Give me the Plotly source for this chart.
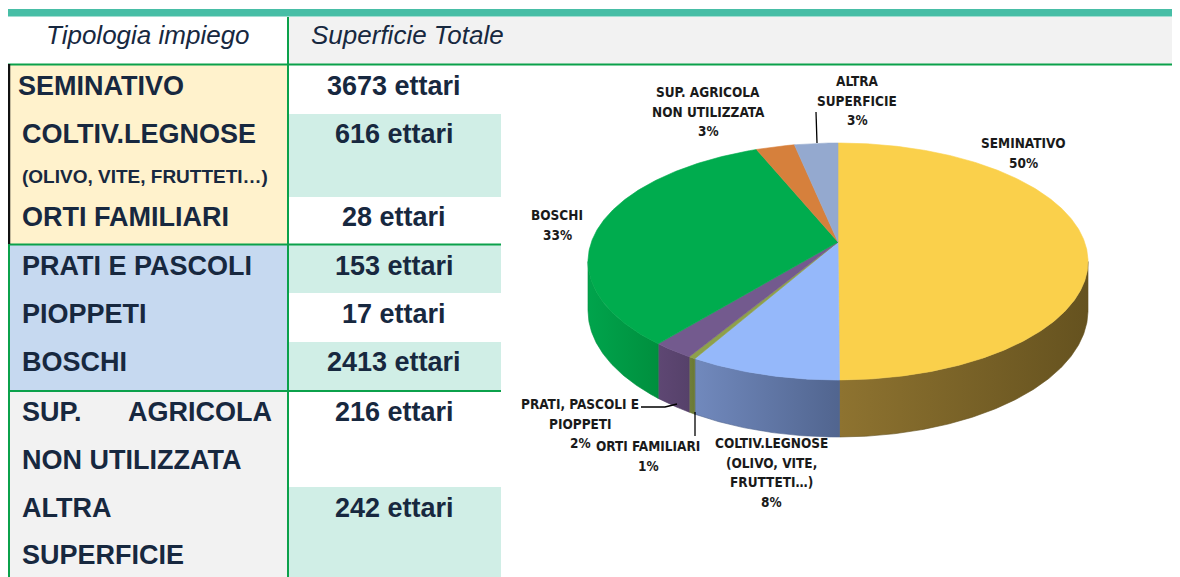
import numpy as np
import plotly.graph_objects as go

# ------------------------------------------------------------------ data
table_header = ["Tipologia impiego", "Superficie Totale"]
table_lines = ["SEMINATIVO", "COLTIV.LEGNOSE", "(OLIVO, VITE, FRUTTETI…)", "ORTI FAMILIARI",
               "PRATI E PASCOLI", "PIOPPETI", "BOSCHI",
               "SUP.", "AGRICOLA", "NON UTILIZZATA", "ALTRA", "SUPERFICIE"]
table_values = [3673, 616, 28, 153, 17, 2413, 216, 242]
value_unit = "ettari"

pie_labels = ["SEMINATIVO", "COLTIV.LEGNOSE<br>(OLIVO, VITE,<br>FRUTTETI…)", "ORTI FAMILIARI",
              "PRATI, PASCOLI E<br>PIOPPETI", "BOSCHI", "SUP. AGRICOLA<br>NON UTILIZZATA",
              "ALTRA<br>SUPERFICIE"]
pie_values = [3673, 616, 28, 170, 2413, 216, 242]

# ------------------------------------------------------------------ style / layout
W, H = 1180, 577
OFF = 8  # page body margin: figure starts at page pixel 8
TXT = "#17283F"
GREEN = "#0BA14B"
TEAL = "#D0EEE6"
TABLE_FONT = "Liberation Sans, Arial, sans-serif"
PIE_FONT = "DejaVu Sans Condensed, Liberation Sans Narrow, Roboto, sans-serif"

top_colors = ["#FAD04B", "#95B8FA", "#8EA04B", "#735A8E", "#00AC4E", "#D6803C", "#94A9CF"]
side_colors = [("#8E7330", "#65521F"), ("#7189BD", "#51658F"), ("#707F39", "#6A7935"),
               ("#5E4773", "#56416A"), ("#00A44C", "#008F3E"), ("#B06A30", "#A06028"),
               ("#7A8BAA", "#6F80A0")]

# text rows (pixel centre y)
line_y = [86, 134, 176, 217, 266, 314, 362, 412, 412, 460, 508, 555]
line_x = [16, 20, 20, 20, 20, 20, 20, 20, 274, 20, 20, 20]
line_anchor = ["left"] * 8 + ["right"] + ["left"] * 3
line_size = [27, 27, 19, 27, 27, 27, 27, 27, 27, 27, 27, 27]
value_y = [86, 134, 217, 266, 314, 362, 412, 508]

# pie geometry (perspective ellipse)
CX, CY = 838, 242
K = 0.1646
A = 246.6
B = 115.3
D0 = 47.6

# label placement (centre x, first line y, line step)
label_pos = [(1023, 143), (771, 443), (648, 446), (580, 404), (557, 215), (708, 92), (857, 81)]
LSTEP = 19.6
leaders = [None, None, [(695, 412), (695, 436)], [(641, 407), (665, 407), (677, 404)],
           None, None, [(816, 112), (817, 143)]]

fig = go.Figure()
shapes = []


def rect(x0, y0, x1, y1, color):
    shapes.append(dict(type="rect", x0=x0, y0=y0, x1=x1, y1=y1, fillcolor=color,
                       line=dict(width=0), layer="below", xref="x", yref="y"))


def hline(x0, x1, y, color=GREEN, w=2):
    shapes.append(dict(type="line", x0=x0, x1=x1, y0=y, y1=y, line=dict(color=color, width=w),
                       xref="x", yref="y"))


def vline(x, y0, y1, color=GREEN, w=2):
    shapes.append(dict(type="line", x0=x, x1=x, y0=y0, y1=y1, line=dict(color=color, width=w),
                       xref="x", yref="y"))


# table backgrounds
rect(8, 9, W, 16.5, "#47BEA6")
rect(289, 17, W, 64, "#F2F2F2")
rect(9, 65, 288, 244, "#FFF2CC")
rect(9, 245, 288, 390, "#C6D9F0")
rect(9, 392, 288, H, "#F2F2F2")
for (y0, y1) in [(114, 197), (245, 293), (342, 390), (487, H)]:
    rect(289, y0, 501, y1, TEAL)
hline(8, W, 64.5)
hline(8, 501, 244.5)
hline(8, 501, 391)
vline(288, 17, H)
vline(9, 245, H)
vline(9, 64, 244, color="#111111", w=2.5)

annotations = []
annotations.append(dict(x=148, y=35, text="<i>" + table_header[0] + "</i>", showarrow=False,
                        xanchor="center", yanchor="middle",
                        font=dict(family=TABLE_FONT, size=26, color=TXT)))
annotations.append(dict(x=309, y=35, text="<i>" + table_header[1] + "</i>", showarrow=False,
                        xanchor="left", yanchor="middle",
                        font=dict(family=TABLE_FONT, size=26, color=TXT)))
for t, x, y, anc, s in zip(table_lines, line_x, line_y, line_anchor, line_size):
    annotations.append(dict(x=x, y=y, text="<b>" + t + "</b>", showarrow=False,
                            xanchor=anc, yanchor="middle",
                            font=dict(family=TABLE_FONT, size=s, color=TXT)))
for v, y in zip(table_values, value_y):
    annotations.append(dict(x=394, y=y, text=f"<b>{v} {value_unit}</b>", showarrow=False,
                            xanchor="center", yanchor="middle",
                            font=dict(family=TABLE_FONT, size=27, color=TXT)))


# ------------------------------------------------------------------ 3D pie
def proj(phi):
    u = np.sin(np.radians(phi))
    v = -np.cos(np.radians(phi))
    w = 1 - K * v
    return CX + A * u / w, CY + B * v / w, w


total = float(sum(pie_values))
cum = np.concatenate([[0], np.cumsum(pie_values)]) / total * 360.0
vis_lo = 180 - np.degrees(np.arccos(K))
vis_hi = 180 + np.degrees(np.arccos(K))

# sides
for i in range(len(pie_values)):
    a, b = max(cum[i], vis_lo), min(cum[i + 1], vis_hi)
    if b <= a:
        continue
    ph = np.linspace(a, b, max(3, int((b - a) * 2)))
    x, y, w = proj(ph)
    yb = y + D0 / w
    xs = np.concatenate([x, x[::-1], [x[0]]])
    ys = np.concatenate([y, yb[::-1], [y[0]]])
    c0, c1 = side_colors[i]
    fig.add_trace(go.Scatter(x=xs, y=ys, mode="lines", fill="toself",
                             line=dict(width=0.6, color=c1),
                             fillgradient=dict(type="horizontal",
                                               colorscale=[[0, c0], [1, c1]]),
                             hoverinfo="skip", showlegend=False))

# top faces
for i in range(len(pie_values)):
    a, b = cum[i], cum[i + 1]
    ph = np.linspace(a, b, max(3, int((b - a) * 2)))
    x, y, _ = proj(ph)
    xs = np.concatenate([[CX], x, [CX]])
    ys = np.concatenate([[CY], y, [CY]])
    fig.add_trace(go.Scatter(x=xs, y=ys, mode="lines", fill="toself",
                             fillcolor=top_colors[i],
                             line=dict(width=0.6, color=top_colors[i]),
                             hoverinfo="skip", showlegend=False,
                             name=pie_labels[i].replace("<br>", " ")))

# labels
for i, lab in enumerate(pie_labels):
    pct = max(1, int(round(100 * pie_values[i] / total)))
    lines = lab.split("<br>") + [f"{pct}%"]
    lx, ly = label_pos[i]
    for j, t in enumerate(lines):
        annotations.append(dict(x=lx, y=ly + j * LSTEP, text="<b>" + t + "</b>", showarrow=False,
                                xanchor="center", yanchor="middle",
                                font=dict(family=PIE_FONT, size=13.5, color="#1A1A1A")))
    if leaders[i]:
        pts = leaders[i]
        fig.add_trace(go.Scatter(x=[p[0] for p in pts], y=[p[1] for p in pts], mode="lines",
                                 line=dict(color="#000000", width=1.3),
                                 hoverinfo="skip", showlegend=False))

# the page body has an 8px margin: the figure covers page pixels 8..W and 8..H
fig.update_layout(
    width=W - OFF, height=H - OFF, margin=dict(l=0, r=0, t=0, b=0),
    paper_bgcolor="white", plot_bgcolor="white",
    xaxis=dict(range=[OFF, W], visible=False, fixedrange=True),
    yaxis=dict(range=[H, OFF], visible=False, fixedrange=True),
    shapes=shapes, annotations=annotations, showlegend=False,
)
fig.write_html("out.html")
